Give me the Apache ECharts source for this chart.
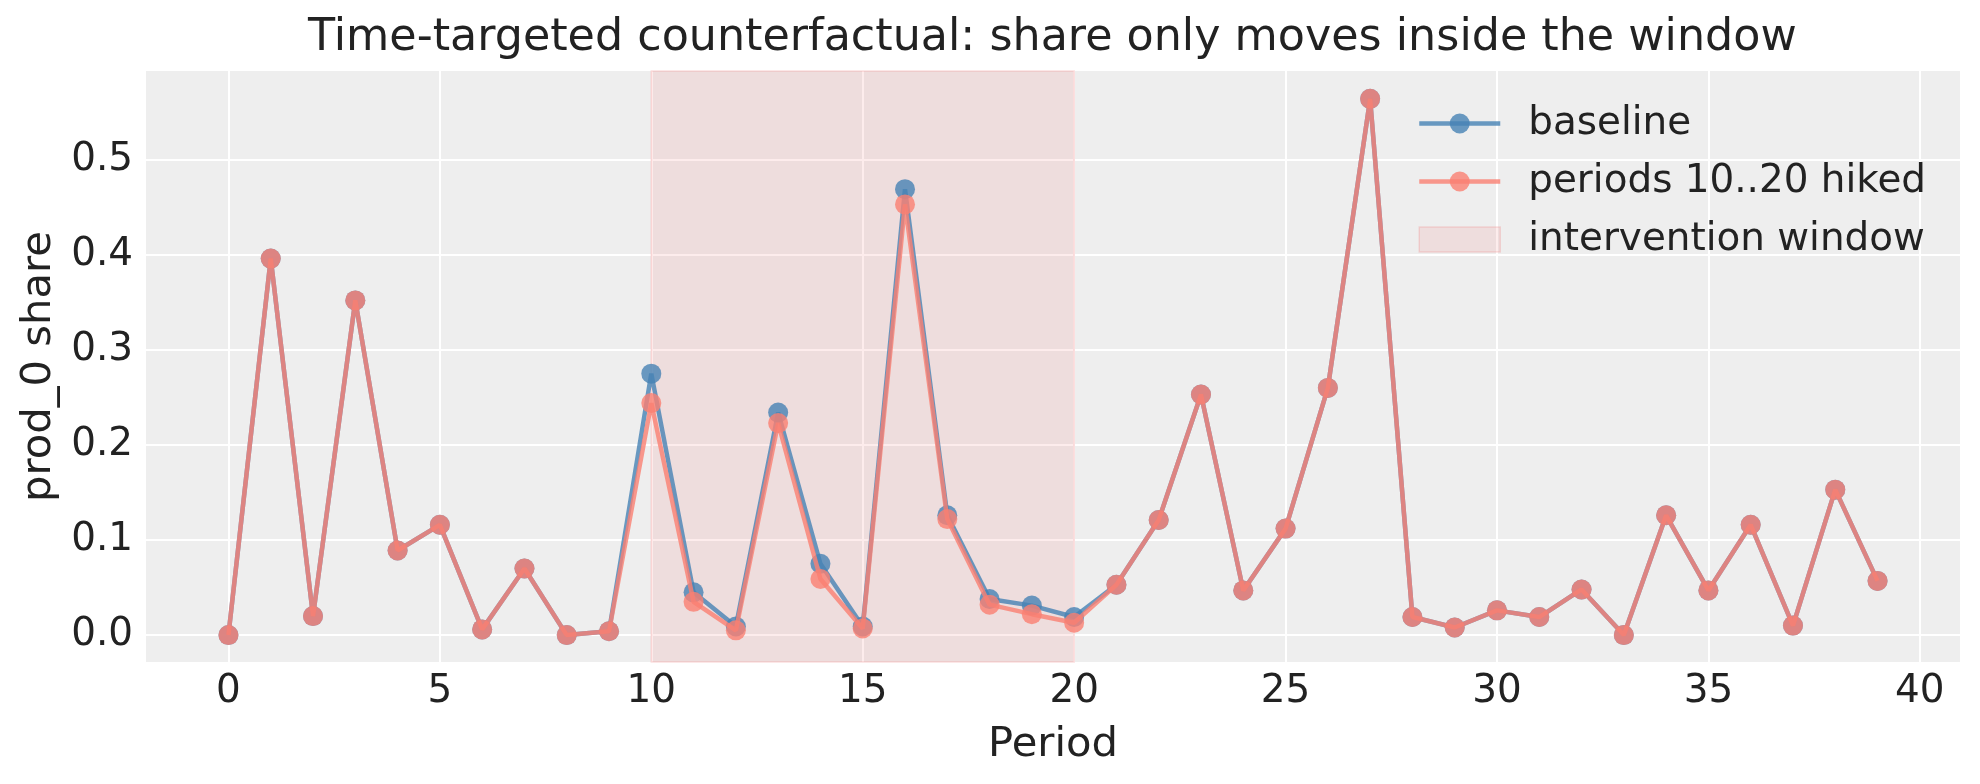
<!DOCTYPE html>
<html>
<head>
<meta charset="utf-8">
<script src="https://cdn.jsdelivr.net/npm/echarts@6/dist/echarts.min.js"></script>
<style>
  html, body { margin: 0; padding: 0; background: #ffffff; }
  #chart { width: 1980px; height: 784px; }
</style>
</head>
<body>
<div id="chart"></div>
<script>
// values
var periods = [0,1,2,3,4,5,6,7,8,9,10,11,12,13,14,15,16,17,18,19,
               20,21,22,23,24,25,26,27,28,29,30,31,32,33,34,35,36,37,38,39];
var baseline = [0.000,0.396,0.020,0.352,0.089,0.116,0.006,0.070,0.000,0.004,
                0.275,0.045,0.009,0.234,0.075,0.009,0.469,0.126,0.038,0.031,
                0.019,0.053,0.121,0.253,0.047,0.112,0.260,0.564,0.019,0.008,
                0.026,0.019,0.048,0.000,0.126,0.047,0.116,0.010,0.153,0.057];
var hiked = [0.000,0.396,0.020,0.352,0.089,0.116,0.006,0.070,0.000,0.004,
             0.244,0.035,0.005,0.223,0.059,0.007,0.453,0.122,0.032,0.022,
             0.013,0.053,0.121,0.253,0.047,0.112,0.260,0.564,0.019,0.008,
             0.026,0.019,0.048,0.000,0.126,0.047,0.116,0.010,0.153,0.057];
var windowStart = 10;
var windowEnd = 20;
var xTicks = [0,5,10,15,20,25,30,35,40];
var yTicks = [0,0.1,0.2,0.3,0.4,0.5];

var FONT = 'DejaVu Sans';
var INK = '#222222';
var BLUE = 'rgb(70,130,180)';
var SALMON = 'rgb(250,128,114)';
var SPAN = 'rgba(240,128,128,0.15)';
var SPAN_EDGE = 'rgba(240,128,128,0.25)';

function pairs(ys) {
    return periods.map(function (p, i) { return [p, ys[i]]; });
}

var chart = echarts.init(document.getElementById('chart'), null, { renderer: 'canvas' });

chart.setOption({
    animation: false,
    backgroundColor: '#ffffff',
    title: {
        text: 'Time-targeted counterfactual: share only moves inside the window',
        left: 308,
        top: 16,
        padding: 0,
        textStyle: { fontFamily: FONT, fontSize: 44.4, fontWeight: 'normal', color: INK }
    },
    grid: {
        left: 146, right: 20, top: 71, bottom: 122,
        show: true, backgroundColor: '#eeeeee', borderWidth: 0
    },
    legend: {
        orient: 'vertical',
        left: 1417,
        top: 104,
        padding: 0,
        itemWidth: 81,
        itemHeight: 25,
        itemGap: 19,
        lineStyle: { width: 4.5 },
        textStyle: { fontFamily: FONT, fontSize: 38.9, color: INK, padding: [0, 0, 0, 23] },
        data: [
            { name: 'baseline' },
            { name: 'periods 10..20 hiked' },
            { name: 'intervention window', icon: 'rect',
              itemStyle: { color: SPAN, borderColor: SPAN_EDGE, borderWidth: 1.5 } }
        ]
    },
    xAxis: {
        type: 'value',
        min: -1.95,
        max: 40.95,
        name: 'Period',
        nameLocation: 'middle',
        nameGap: 62,
        nameTextStyle: { fontFamily: FONT, fontSize: 41.7, color: INK },
        axisLine: { show: false },
        axisTick: { show: false, customValues: xTicks },
        axisLabel: { customValues: xTicks, margin: 10, fontFamily: FONT, fontSize: 38.9, color: INK },
        splitLine: { show: true, lineStyle: { color: '#ffffff', width: 2 } }
    },
    yAxis: {
        type: 'value',
        min: -0.0283,
        max: 0.5933,
        name: 'prod_0 share',
        nameLocation: 'middle',
        nameRotate: 90,
        nameGap: 86,
        nameTextStyle: { fontFamily: FONT, fontSize: 41.7, color: INK },
        axisLine: { show: false },
        axisTick: { show: false, customValues: yTicks },
        axisLabel: {
            customValues: yTicks, margin: 13, fontFamily: FONT, fontSize: 38.9, color: INK,
            formatter: function (v) { return v.toFixed(1); }
        },
        splitLine: { show: true, lineStyle: { color: '#ffffff', width: 2 } }
    },
    series: [
        {
            name: 'intervention window',
            type: 'line',
            data: [],
            z: 1,
            itemStyle: { color: SPAN },
            markArea: {
                silent: true,
                itemStyle: { color: SPAN, borderColor: SPAN_EDGE, borderWidth: 1.5 },
                data: [[{ xAxis: windowStart }, { xAxis: windowEnd }]]
            }
        },
        {
            name: 'baseline',
            type: 'line',
            data: pairs(baseline),
            z: 3,
            symbol: 'circle',
            symbolSize: 20,
            lineStyle: { color: BLUE, width: 4.5, opacity: 0.8 },
            itemStyle: { color: BLUE, opacity: 0.8 }
        },
        {
            name: 'periods 10..20 hiked',
            type: 'line',
            data: pairs(hiked),
            z: 4,
            symbol: 'circle',
            symbolSize: 20,
            lineStyle: { color: SALMON, width: 4.5, opacity: 0.8 },
            itemStyle: { color: SALMON, opacity: 0.8 }
        }
    ]
});
</script>
</body>
</html>
